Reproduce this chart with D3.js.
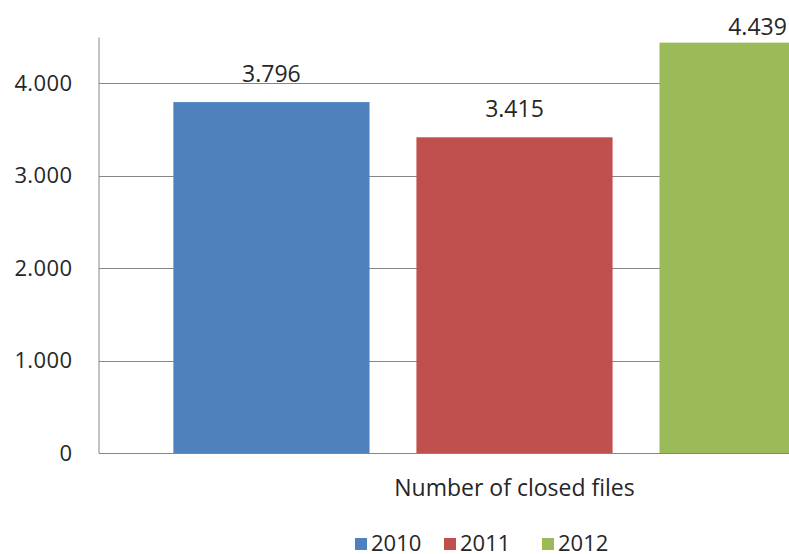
<!DOCTYPE html>
<html>
<head>
<meta charset="utf-8">
<script src="https://cdn.jsdelivr.net/npm/d3@7"></script>
<style>
  body { margin: 0; background: #fff; }
  text { font-family: "Open Sans", sans-serif; fill: #262626; }
</style>
</head>
<body>
<div id="chart"></div>
<script>
// data
const category = "Number of closed files";
const years = ["2010", "2011", "2012"];
const values = [3796, 3415, 4439];
const colors = ["#4F81BD", "#C0504D", "#9BBB59"];
const yTicks = [0, 1000, 2000, 3000, 4000];

const W = 789, H = 554;
// plot area runs past the right edge of the picture
const plot = {left: 99, right: 930, top: 37, bottom: 453};

const fmt = d => d3.format(",")(d).replace(/,/g, ".");

const svg = d3.select("#chart")
  .append("svg")
    .attr("width", W)
    .attr("height", H);

const y = d3.scaleLinear()
  .domain([0, 4500])
  .range([plot.bottom, plot.top]);

const x0 = d3.scaleBand()
  .domain([category])
  .range([plot.left, plot.right]);

const x1 = d3.scaleBand()
  .domain(years)
  .range([0, x0.bandwidth()])
  .paddingInner(0.193)
  .paddingOuter(0.306);

// gridlines
svg.append("g")
  .selectAll("line")
  .data(yTicks.filter(d => d > 0))
  .join("line")
    .attr("x1", plot.left)
    .attr("x2", plot.right)
    .attr("y1", d => Math.round(y(d)) + 0.5)
    .attr("y2", d => Math.round(y(d)) + 0.5)
    .attr("stroke", "#868686")
    .attr("stroke-width", 1);

// y axis
const yAxis = svg.append("g")
  .attr("transform", `translate(${plot.left - 0.5},0)`)
  .call(d3.axisLeft(y).tickValues(yTicks).tickFormat(fmt).tickSize(0).tickPadding(26));
yAxis.select(".domain").attr("stroke", "#868686");
yAxis.selectAll("text")
  .style("font-size", "22px")
  .style("letter-spacing", "0.4px")
  .attr("fill", "#262626");

// bars
svg.append("g")
  .selectAll("rect")
  .data(years)
  .join("rect")
    .attr("x", (d, i) => x0(category) + x1(d))
    .attr("y", (d, i) => y(values[i]))
    .attr("width", x1.bandwidth())
    .attr("height", (d, i) => y(0) - y(values[i]))
    .attr("fill", (d, i) => colors[i]);

// x baseline
svg.append("line")
  .attr("x1", plot.left)
  .attr("x2", plot.right)
  .attr("y1", Math.round(y(0)) + 0.5)
  .attr("y2", Math.round(y(0)) + 0.5)
  .attr("stroke", "#868686");

// value labels (pushed down when they would leave the chart)
svg.append("g")
  .selectAll("text")
  .data(years)
  .join("text")
    .attr("x", d => x0(category) + x1(d) + x1.bandwidth() / 2)
    .attr("y", (d, i) => Math.max(y(values[i]) - 20, 35))
    .attr("text-anchor", "middle")
    .style("font-size", "23px")
    .text((d, i) => fmt(values[i]));

// category label
svg.append("text")
  .attr("x", x0(category) + x0.bandwidth() / 2)
  .attr("y", 496)
  .attr("text-anchor", "middle")
  .style("font-size", "23px")
  .text(category);

// legend
const legendX = [355, 444, 542];
const legend = svg.append("g")
  .selectAll("g")
  .data(years)
  .join("g")
    .attr("transform", (d, i) => `translate(${legendX[i]},538)`);
legend.append("rect")
  .attr("width", 12)
  .attr("height", 12)
  .attr("fill", (d, i) => colors[i]);
legend.append("text")
  .attr("x", 16)
  .attr("y", 13)
  .style("font-size", "22px")
  .text(d => d);
</script>
</body>
</html>
